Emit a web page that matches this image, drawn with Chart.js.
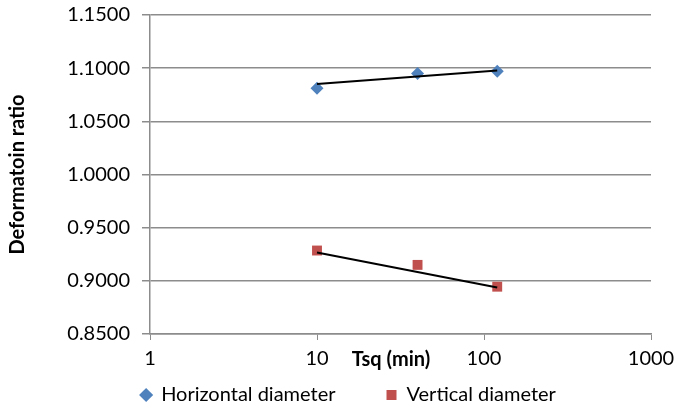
<!DOCTYPE html>
<html>
<head>
<meta charset="utf-8">
<script src="https://cdn.jsdelivr.net/npm/chart.js@4/dist/chart.umd.min.js"></script>
<style>
  html, body { margin: 0; padding: 0; background: #fff; }
  #wrap { width: 687px; height: 409px; }
</style>
</head>
<body>
<div id="wrap"><canvas id="chart" width="687" height="409"></canvas></div>
<script>
// values
const timeMin = [10, 40, 120];
const horizontal = [1.081, 1.095, 1.097];
const vertical = [0.9285, 0.915, 0.8945];
// trend line end points (log fit, straight on log axis)
const trendX = [10, 120];
const horizontalTrend = [1.085, 1.0977];
const verticalTrend = [0.9266, 0.8937];
const xTicks = [1, 10, 100, 1000];

const FONT = 'Lato, "Open Sans", sans-serif';
const GRID = '#8c8c8c';

function pts(xs, ys) {
    return xs.map((x, i) => ({ x: x, y: ys[i] }));
}

// x axis title sits in the tick label row, like the original
const xTitle = {
    id: 'xTitle',
    afterLayout(chart) {
        // x axis box is squeezed to 0 height, let its labels show below it
        chart.scales.x.bottom = chart.height;
    },
    afterDraw(chart) {
        const ctx = chart.ctx;
        ctx.save();
        ctx.font = 'bold 20px ' + FONT;
        ctx.fillStyle = '#000';
        ctx.textAlign = 'center';
        ctx.textBaseline = 'middle';
        ctx.fillText('Tsq (min)', 391, 360);
        ctx.restore();
    }
};

const ctx = document.getElementById('chart').getContext('2d');
const chart = new Chart(ctx, {
    type: 'scatter',
    data: {
        datasets: [
            {
                label: 'Horizontal diameter',
                data: pts(timeMin, horizontal),
                pointStyle: 'rectRot',
                pointRadius: 6.5,
                pointHoverRadius: 6.5,
                backgroundColor: '#4F81BD',
                borderColor: '#4F81BD',
                borderWidth: 0,
                order: 1
            },
            {
                label: 'Vertical diameter',
                data: pts(timeMin, vertical),
                pointStyle: 'rect',
                pointRadius: 7,
                pointHoverRadius: 7,
                backgroundColor: '#C0504D',
                borderColor: '#C0504D',
                borderWidth: 0,
                order: 1
            },
            {
                label: 'trendH',
                data: pts(trendX, horizontalTrend),
                showLine: true,
                pointRadius: 0,
                borderColor: '#000',
                borderWidth: 2,
                order: 0
            },
            {
                label: 'trendV',
                data: pts(trendX, verticalTrend),
                showLine: true,
                pointRadius: 0,
                borderColor: '#000',
                borderWidth: 2,
                order: 0
            }
        ]
    },
    options: {
        responsive: false,
        animation: false,
        layout: { padding: { top: 0, right: 36, bottom: 0, left: 46 } },
        plugins: {
            tooltip: { enabled: false },
            legend: {
                position: 'bottom',
                maxHeight: 75,
                labels: {
                    filter: item => item.text.indexOf('trend') !== 0,
                    usePointStyle: true,
                    boxWidth: 10,
                    boxHeight: 10,
                    padding: 51,
                    color: '#000',
                    font: { family: FONT, size: 20 }
                }
            }
        },
        scales: {
            x: {
                type: 'logarithmic',
                min: 1,
                max: 1000,
                afterBuildTicks: s => { s.ticks = xTicks.map(v => ({ value: v })); },
                afterFit: s => { s.height = 0; },
                ticks: {
                    color: '#000',
                    font: { family: FONT, size: 20 },
                    maxRotation: 0,
                    autoSkip: false,
                    padding: 7,
                    callback: v => String(v)
                },
                grid: {
                    drawOnChartArea: false,
                    color: GRID,
                    tickLength: 6
                },
                border: { color: GRID, width: 1.5 }
            },
            y: {
                min: 0.85,
                max: 1.15,
                afterFit: s => { s.width = 104; },
                ticks: {
                    stepSize: 0.05,
                    color: '#000',
                    font: { family: FONT, size: 20, lineHeight: 0.3 },
                    padding: 12,
                    callback: v => v.toFixed(4)
                },
                grid: {
                    color: GRID,
                    lineWidth: 1.5,
                    tickLength: 8
                },
                border: { color: GRID, width: 1.5 },
                title: {
                    display: true,
                    text: 'Deformatoin ratio',
                    color: '#000',
                    font: { family: FONT, size: 20, weight: 'bold' },
                    padding: { top: -40, bottom: 0 }
                }
            }
        }
    },
    plugins: [xTitle]
});
</script>
</body>
</html>
